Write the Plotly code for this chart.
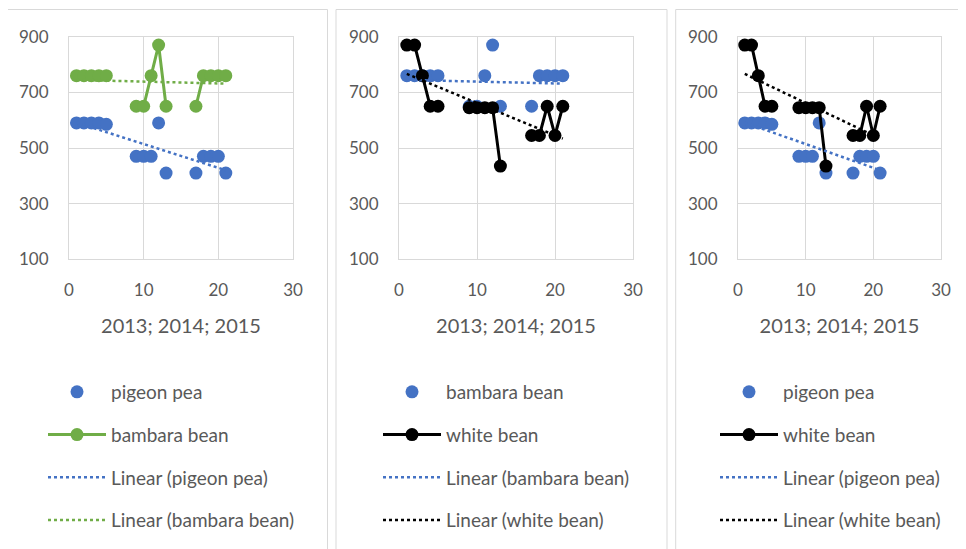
import numpy as np
import plotly.graph_objects as go

# ---------------- data ----------------
x_vals = list(range(1, 22))
pigeon_pea = [590, 590, 590, 590, 585, None, None, None, 470, 470, 470, 590, 410,
              None, None, None, 410, 470, 470, 470, 410]
bambara_bean = [760, 760, 760, 760, 760, None, None, None, 650, 650, 760, 870, 650,
                None, None, None, 650, 760, 760, 760, 760]
white_bean = [870, 870, 760, 650, 650, None, None, None, 645, 645, 645, 645, 435,
              None, None, None, 545, 545, 650, 545, 650]
x_title = "2013; 2014; 2015"
x_ticks = [0, 10, 20, 30]
y_ticks = [100, 300, 500, 700, 900]

BLUE = "#4472C4"
GREEN = "#70AD47"
BLACK = "#000000"
GRAY_TXT = "#595959"
GRID = "#D9D9D9"
FONT = "Lato"

W, H = 966, 549
OFF = 8  # page (body) offset of the graph div


def px_x(p):
    return (p - OFF) / W


def px_y(p):
    return 1 - (p - OFF) / H


def trend(xs, ys):
    pts = [(a, b) for a, b in zip(xs, ys) if b is not None]
    xa = np.array([p[0] for p in pts], dtype=float)
    ya = np.array([p[1] for p in pts], dtype=float)
    m, c = np.polyfit(xa, ya, 1)
    x2 = [xa.min(), xa.max()]
    return x2, [m * v + c for v in x2]


panels = [
    # (scatter name, scatter data, line name, line data, line colour)
    ("pigeon pea", pigeon_pea, "bambara bean", bambara_bean, GREEN),
    ("bambara bean", bambara_bean, "white bean", white_bean, BLACK),
    ("pigeon pea", pigeon_pea, "white bean", white_bean, BLACK),
]

x_domains = [[px_x(69), px_x(293)], [px_x(399), px_x(633)], [px_x(738), px_x(941)]]
y_domain = [px_y(259.3), px_y(36.7)]
legend_x = [px_x(43), px_x(378), px_x(715)]
legend_top = px_y(373)

fig = go.Figure()
layout = {}
for i, (sname, sdata, lname, ldata, lcol) in enumerate(panels):
    n = "" if i == 0 else str(i + 1)
    xa, ya = "x" + n, "y" + n
    lg = "legend" + n
    fig.add_trace(go.Scatter(
        x=x_vals, y=sdata, mode="markers", name=sname,
        marker=dict(color=BLUE, size=13), xaxis=xa, yaxis=ya,
        legend=lg, legendgroup=f"p{i}a"))
    fig.add_trace(go.Scatter(
        x=x_vals, y=ldata, mode="lines+markers", name=lname,
        marker=dict(color=lcol, size=13), line=dict(color=lcol, width=3),
        connectgaps=False, xaxis=xa, yaxis=ya,
        legend=lg, legendgroup=f"p{i}b"))
    tx, ty = trend(x_vals, sdata)
    fig.add_trace(go.Scatter(
        x=tx, y=ty, mode="lines", name=f"Linear ({sname})",
        line=dict(color=BLUE, width=2.5, dash="dot"), xaxis=xa, yaxis=ya,
        legend=lg, legendgroup=f"p{i}c"))
    tx, ty = trend(x_vals, ldata)
    fig.add_trace(go.Scatter(
        x=tx, y=ty, mode="lines", name=f"Linear ({lname})",
        line=dict(color=lcol, width=2.5, dash="dot"), xaxis=xa, yaxis=ya,
        legend=lg, legendgroup=f"p{i}d"))

    layout["xaxis" + n] = dict(
        domain=x_domains[i], range=[0, 30], tickvals=x_ticks,
        showgrid=True, gridcolor=GRID, gridwidth=1,
        showline=True, linecolor=GRID, mirror=True, zeroline=False,
        ticks="", ticklabelstandoff=15, automargin=False,
        tickfont=dict(family=FONT, size=17, color=GRAY_TXT),
        title=dict(text=x_title, standoff=20,
                   font=dict(family=FONT, size=20, color=GRAY_TXT)),
        anchor=ya, fixedrange=True)
    layout["yaxis" + n] = dict(
        domain=y_domain, range=[100, 900], tickvals=y_ticks,
        showgrid=True, gridcolor=GRID, gridwidth=1,
        showline=True, linecolor=GRID, mirror=True, zeroline=False,
        ticks="", ticklabelstandoff=16, automargin=False,
        tickfont=dict(family=FONT, size=17, color=GRAY_TXT),
        anchor=xa, fixedrange=True)
    layout[lg] = dict(
        x=legend_x[i], y=legend_top, xanchor="left", yanchor="top",
        bgcolor="rgba(0,0,0,0)", itemwidth=58, traceorder="grouped",
        tracegroupgap=15, font=dict(family=FONT, size=19, color=GRAY_TXT))

# panel frames
frames = [(6.5, 327.5), (336, 667), (675.7, 1000)]
shapes = []
for x0, x1 in frames:
    shapes.append(dict(type="rect", xref="paper", yref="paper",
                       x0=px_x(x0), x1=px_x(x1), y0=-0.2, y1=px_y(9.5),
                       line=dict(color=GRID, width=1), fillcolor="rgba(0,0,0,0)",
                       layer="below"))

fig.update_layout(
    width=W, height=H, margin=dict(l=0, r=0, t=0, b=0, pad=0, autoexpand=False),
    paper_bgcolor="white", plot_bgcolor="white",
    showlegend=True, shapes=shapes, **layout)

fig.write_html("out.html")
